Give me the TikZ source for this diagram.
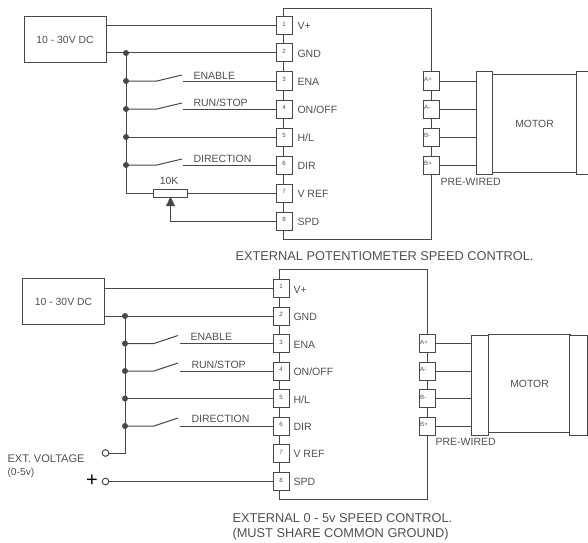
\documentclass[tikz,border=0pt]{standalone}
\usepackage{fontspec}
\setmainfont{Liberation Sans}
\usetikzlibrary{arrows.meta}
\definecolor{ln}{HTML}{484848}
\definecolor{tx}{HTML}{505050}
\tikzset{
  x=0.75pt,y=-0.75pt,
  every path/.style={line width=0.75pt},
  blk/.style={draw=ln,fill=white,inner sep=0pt,text=tx,font=\fontsize{7.8}{9}\selectfont},
  pinn/.style={draw=ln,fill=white,inner sep=0pt,minimum width=12pt,minimum height=13.5pt,text=tx,font=\fontsize{4.6}{5}\selectfont},
  pinr/.style={pinn,text width=11pt,align=left},
  lab/.style={text=tx,inner sep=0pt,anchor=west,font=\fontsize{7.9}{9}\selectfont},
  captext/.style={text=tx,inner sep=0pt,anchor=west,font=\fontsize{9.6}{11}\selectfont},
  jdot/.style={circle,fill=ln,draw=none,inner sep=0pt,minimum size=4.5pt},
  termc/.style={circle,draw=ln,fill=white,inner sep=0pt,minimum size=5pt},
}
\newcommand{\pinsL}[9]{%
  \node[pinn] (#1a) at (#2,#3) {\raisebox{2pt}{1}};
  \node[pinn] (#1b) at (#2,#4) {\raisebox{2pt}{2}};
  \node[pinn] (#1c) at (#2,#5) {\raisebox{2pt}{3}};
  \node[pinn] (#1d) at (#2,#6) {\raisebox{2pt}{4}};
  \node[pinn] (#1e) at (#2,#7) {\raisebox{2pt}{5}};
  \node[pinn] (#1f) at (#2,#8) {\raisebox{2pt}{6}};
  \node[pinn] (#1g) at (#2,#9) {\raisebox{2pt}{7}};
}
\begin{document}
\begin{tikzpicture}[color=ln]
\useasboundingbox (0,0) rectangle (588,542);
% ---------- TOP ----------
\node[blk,minimum width=111pt,minimum height=172.5pt] (tbox) at (357,124) {};
\pinsL{t}{284}{26}{53}{81}{109}{137}{165}{193}
\node[pinn] (th) at (284,221) {\raisebox{2pt}{8}};
\node[blk,minimum width=61.5pt,minimum height=34pt] (tpsu) at (65,39.5) {10 - 30V DC};
\foreach \t/\y in {V+/26,GND/54,ENA/82,ON\slash OFF/110,H\slash L/138,DIR/166,V REF/194,SPD/222}
  \node[lab] at (297,\y) {\t};
% right pins
\node[pinr] (tp1) at (431.5,81) {\raisebox{2pt}{A+}};
\node[pinr] (tp2) at (431.5,109) {\raisebox{2pt}{A-}};
\node[pinr] (tp3) at (431.5,137) {\raisebox{2pt}{B-}};
\node[pinr] (tp4) at (431.5,165) {\raisebox{2pt}{B+}};
% motor
\node[blk,minimum width=63pt,minimum height=73pt] (tbody) at (534.5,123.5) {MOTOR};
\node[blk,minimum width=12.5pt,minimum height=76.5pt] (tfl) at (484.5,123) {};
\node[blk,minimum width=12.5pt,minimum height=76.5pt] (tfr) at (585,123) {};
% wiring
\coordinate (tj) at (126,53);
\coordinate (tj7) at (126,193);
\draw (tpsu.east |- ta) -- (ta);
\draw (tpsu.east |- tb) -- (tb);
\draw (tj) -- (tj7);
\foreach \p in {b,c,d,e,f} \node[jdot] at (126,0 |- t\p) {};
\foreach \p/\q in {c/1,d/2,f/3}{
  \coordinate (ts\q) at (157,0 |- t\p);
  \coordinate (te\q) at (183,0 |- t\p);
  \draw (126,0 |- t\p) -- (ts\q) -- ++(25,-6);
  \draw (te\q) -- (t\p);
}
\draw (126,0 |- te) -- (te);
\foreach \i in {1,2,3,4} \draw (tp\i) -- (tfl.west |- tp\i);
\node[blk,minimum width=25.5pt,minimum height=6pt] (tpot) at (170,193) {};
\draw (tj7) -- (tpot);
\draw (tpot) -- (tg);
\node[blk,draw=none,fill=none] (tl10) at (169,180.5) {10K};
\coordinate (twiper) at (170.5,221);
\draw (th) -- (twiper) -- (170.5,206);
\fill[ln] (170.5,196.5) -- (175,206) -- (166,206) -- cycle;
\node[lab] at (193,76) {ENABLE};
\node[lab] at (193,103) {RUN/STOP};
\node[lab] at (193,159) {DIRECTION};
\node[lab] at (440,182) {PRE-WIRED};
\node[captext] at (235,256.5) {EXTERNAL POTENTIOMETER SPEED CONTROL.};
% ---------- BOTTOM ----------
\node[blk,minimum width=110.5pt,minimum height=172pt] (bbox) at (353.5,384.5) {};
\pinsL{b}{281}{288}{316}{343.5}{371}{398.5}{426}{453.5}
\node[pinn] (bh) at (281,481.5) {\raisebox{2pt}{8}};
\node[blk,minimum width=62pt,minimum height=34pt] (bpsu) at (63.5,301.5) {10 - 30V DC};
\foreach \t/\y in {V+/290,GND/317,ENA/345,ON\slash OFF/372,H\slash L/400,DIR/427,V REF/454,SPD/482}
  \node[lab] at (293,\y) {\t};
\node[pinr] (bp1) at (427.5,343.5) {\raisebox{2pt}{A+}};
\node[pinr] (bp2) at (427.5,371) {\raisebox{2pt}{A-}};
\node[pinr] (bp3) at (427.5,398.5) {\raisebox{2pt}{B-}};
\node[pinr] (bp4) at (427.5,426) {\raisebox{2pt}{B+}};
\node[blk,minimum width=61pt,minimum height=73pt] (bbody) at (529.5,383.5) {MOTOR};
\node[blk,minimum width=13pt,minimum height=75pt] (bfl) at (480,385) {};
\node[blk,minimum width=13pt,minimum height=75pt] (bfr) at (578.5,385) {};
\coordinate (bj7) at (125,453);
\node[termc] (bt1) at (105.5,453) {};
\node[termc] (bt2) at (105.5,481.5) {};
\draw (bpsu.east |- ba) -- (ba);
\draw (bpsu.east |- bb) -- (bb);
\draw (125,0 |- bb) -- (bj7) -- (bt1);
\foreach \p in {b,c,d,e,f} \node[jdot] at (125,0 |- b\p) {};
\foreach \p/\q in {c/1,d/2,f/3}{
  \coordinate (bs\q) at (154,0 |- b\p);
  \coordinate (be\q) at (180,0 |- b\p);
  \draw (125,0 |- b\p) -- (bs\q) -- ++(24,-8);
  \draw (be\q) -- (b\p);
}
\draw (125,0 |- be) -- (be);
\draw (bt2) -- (bh);
\foreach \i in {1,2,3,4} \draw (bp\i) -- (bfl.west |- bp\i);
\node[lab] at (190,337) {ENABLE};
\node[lab] at (191,365) {RUN/STOP};
\node[lab] at (191,419) {DIRECTION};
\node[lab] at (435,441.5) {PRE-WIRED};
\node[lab,font=\fontsize{8.3}{9}\selectfont] at (7,458.5) {EXT. VOLTAGE};
\node[lab,font=\fontsize{7.7}{9}\selectfont] at (7,473) {(0-5v)};
\node[text=black,inner sep=0pt,font=\fontsize{15}{15}\selectfont] at (92,480.5) {+};
\node[captext] at (232,518) {EXTERNAL 0 - 5v SPEED CONTROL.};
\node[captext] at (232,534) {(MUST SHARE COMMON GROUND)};
\end{tikzpicture}
\end{document}
